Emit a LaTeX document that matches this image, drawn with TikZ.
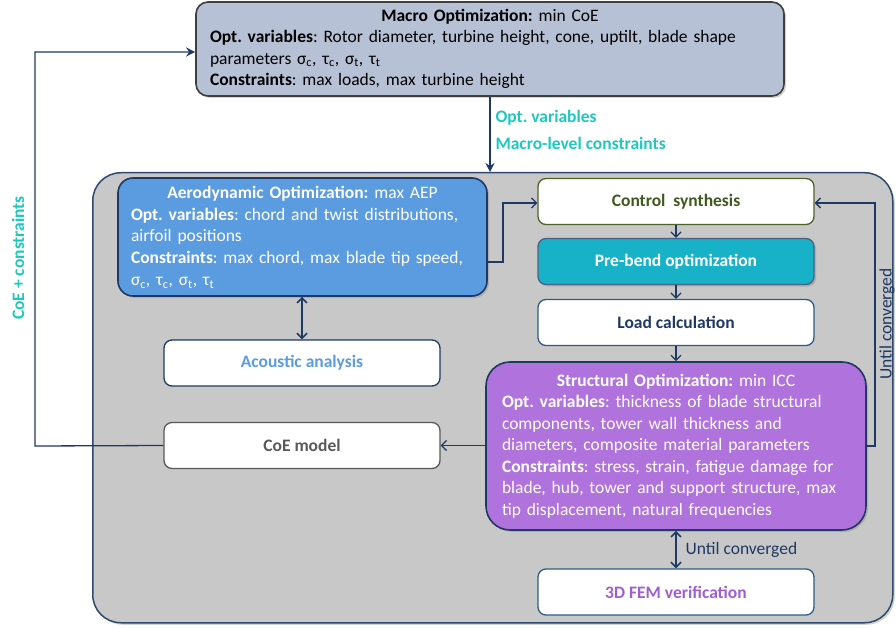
\documentclass[tikz,border=0pt]{standalone}
\usepackage{fontspec}
\setmainfont{Carlito}
\usetikzlibrary{shadows,arrows.meta}
\definecolor{navy}{HTML}{1F3864}
\definecolor{outerblue}{HTML}{2E4A70}
\definecolor{macrofill}{HTML}{B7C1D5}
\definecolor{macroline}{HTML}{3F3F3F}
\definecolor{aerofill}{HTML}{5B9BE0}
\definecolor{structfill}{HTML}{B072DC}
\definecolor{prebendfill}{HTML}{17B2C8}
\definecolor{teallabel}{HTML}{1EC8BE}
\definecolor{greenline}{HTML}{4F6228}
\definecolor{greentext}{HTML}{3F5A1E}
\definecolor{boxblue}{HTML}{2E5A8A}
\definecolor{acoustic}{HTML}{5B9BE0}
\definecolor{coegray}{HTML}{595959}
\definecolor{femtext}{HTML}{A05FD0}
\definecolor{graybg}{HTML}{C8C8C8}
\newcommand{\sg}[1]{σ\textsubscript{#1}}
\newcommand{\ta}[1]{τ\textsubscript{#1}}
\frenchspacing
\begin{document}
\begin{tikzpicture}[x=1pt,y=-1pt,
  font=\fontsize{17.5}{21}\selectfont,
  bigbox/.style={draw, rectangle, anchor=center, align=left, line width=1.6pt},
  smallbox/.style={draw, rectangle, anchor=center, rounded corners=8pt, fill=white,
     minimum width=276pt, minimum height=46pt, line width=1.3pt, font=\fontsize{17.5}{21}\selectfont\bfseries},
  arr/.style={draw=navy, line width=1.3pt, -{Straight Barb[length=5pt,width=10pt]}},
  darr/.style={draw=navy, line width=1.6pt, {Straight Barb[length=5pt,width=10pt]}-{Straight Barb[length=5pt,width=10pt]}},
  farr/.style={draw=navy, line width=1.3pt, -{Stealth[length=9pt,width=9pt]}},
  shd/.style={drop shadow={shadow xshift=2pt,shadow yshift=-2pt,opacity=0.35}},
  lbl/.style={text=teallabel, font=\fontsize{17.5}{21}\selectfont\bfseries}
]
\useasboundingbox (0,0) rectangle (896,628);

% outer gray box
\node[draw=outerblue, line width=1.5pt, fill=graybg, rounded corners=28pt, shd,
  minimum width=800pt, minimum height=450pt, anchor=north west, inner sep=0pt] (outer) at (92,172) {};

% macro box
\node[bigbox, draw=macroline, fill=macrofill, rounded corners=12pt, shd,
  minimum width=588pt, minimum height=94pt, inner xsep=14pt, text width=560pt,
  font=\fontsize{17.5}{21.5}\selectfont] (macro) at (490,49)
  {\makebox[\linewidth][c]{\textbf{Macro Optimization:} min CoE}\\
   \textbf{Opt. variables}: Rotor diameter, turbine height, cone, uptilt, blade shape\\
   parameters \sg{c}, \ta{c}, \sg{t}, \ta{t}\\
   \textbf{Constraints}: max loads, max turbine height};

% aero box
\node[bigbox, draw=navy, fill=aerofill, rounded corners=15pt, text=white, shd,
  minimum width=369pt, minimum height=118pt, inner xsep=13pt, text width=343pt,
  font=\fontsize{17.5}{21.8}\selectfont] (aero) at (302.5,237)
  {\makebox[\linewidth][c]{\textbf{Aerodynamic Optimization:} max AEP}\\
   \textbf{Opt. variables}: chord and twist distributions,\\
   airfoil positions\\
   \textbf{Constraints}: max chord, max blade tip speed,\\
   \sg{c}, \ta{c}, \sg{t}, \ta{t}};

% structural box
\node[bigbox, draw=navy, fill=structfill, rounded corners=24pt, text=white, shd,
  minimum width=380pt, minimum height=168pt, inner xsep=16pt, text width=348pt,
  font=\fontsize{17.5}{21.5}\selectfont] (struct) at (676,446)
  {\makebox[\linewidth][c]{\textbf{Structural Optimization:} min ICC}\\
   \textbf{Opt. variables}: thickness of blade structural\\
   components, tower wall thickness and\\
   diameters, composite material parameters\\
   \textbf{Constraints}: stress, strain, fatigue damage for\\
   blade, hub, tower and support structure, max\\
   tip displacement, natural frequencies};

% small boxes
\node[smallbox, draw=greenline, text=greentext] (control) at (676,201.5) {Control\ \ synthesis};
\node[smallbox, draw=navy!80, fill=prebendfill, text=white, shd] (prebend) at (676,261.5) {Pre-bend optimization};
\node[smallbox, draw=boxblue, text=navy] (load) at (676,322.5) {Load calculation};
\node[smallbox, draw=navy, text=acoustic] (acoustic) at (302,363) {Acoustic analysis};
\node[smallbox, draw=coegray, text=coegray] (coe) at (302,445.5) {CoE model};
\node[smallbox, draw=boxblue, text=femtext] (fem) at (676,592) {3D FEM verification};

% connectors
\draw[farr] (macro.south) -- (outer.north -| macro.south);
\node[anchor=west, lbl] (lab1) at (492,118) {Opt. variables};
\node[anchor=west, lbl] (lab2) at (492,143) {Macro-level constraints};

\coordinate (cl1) at (35,446);
\coordinate (cl2) at (35,52);
\draw[farr] (coe.west) -- (cl1) -- (cl2) -- (cl2 -| macro.west);
\node[rotate=90, lbl] (lab3) at (18,258) {CoE + constraints};

\coordinate (ac1) at (503,262);
\coordinate (ac2) at (503,203);
\draw[arr] (ac1 -| aero.east) -- (ac1) -- (ac2) -- (ac2 -| control.west);

\draw[arr] (control.south) -- (prebend.north);
\draw[arr] (prebend.south) -- (load.north);
\draw[arr] (load.south) -- (load.south |- struct.north);

\coordinate (rl1) at (875,446);
\coordinate (rl2) at (875,203);
\draw[arr] (rl1 -| struct.east) -- (rl1) -- (rl2) -- (rl2 -| control.east);
\node[rotate=90, text=navy] (lab4) at (887,324) {Until converged};

\draw[darr] (aero.south -| acoustic.north) -- (acoustic.north);
\draw[arr] (struct.west |- coe.east) -- (coe.east);
\draw[darr] (struct.south -| fem.north) -- (fem.north);
\node[anchor=west, text=navy] (lab5) at (682,550) {Until converged};
\end{tikzpicture}
\end{document}
